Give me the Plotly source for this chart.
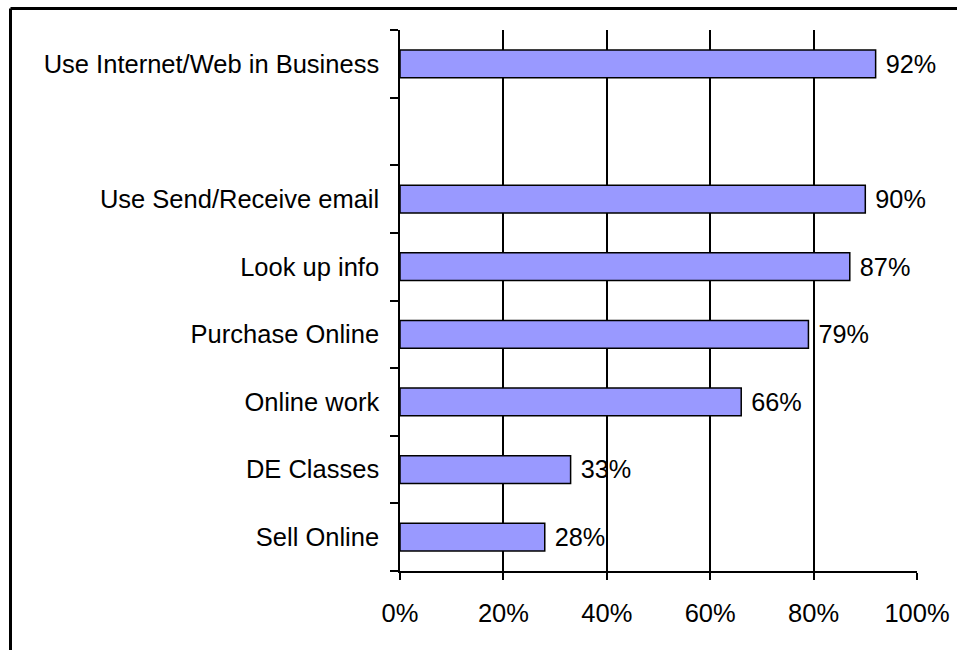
import plotly.graph_objects as go

categories = ["Sell Online", "DE Classes", "Online work", "Purchase Online",
              "Look up info", "Use Send/Receive email", " ", "Use Internet/Web in Business"]
values = [28, 33, 66, 79, 87, 90, None, 92]
x_ticks = [0, 20, 40, 60, 80, 100]
x_tick_labels = ["0%", "20%", "40%", "60%", "80%", "100%"]

FONT = "Liberation Sans, Arial, sans-serif"
FS = 25.5

fig = go.Figure(go.Bar(
    y=categories, x=values, orientation="h",
    marker=dict(color="#9999FF", line=dict(color="black", width=1.5)),
    width=0.41,
    texttemplate=" %{x}%", textposition="outside", cliponaxis=False,
    textfont=dict(family=FONT, size=FS, color="black"),
    hoverinfo="skip",
))

W, H = 957, 650
L, R, T, B = 400, 40, 30, 79
pw, ph = W - L - R, H - T - B

def px_x(p):
    return (p - L) / pw

def px_y(p):
    return (H - B - p) / ph

fig.update_layout(
    width=W, height=H,
    margin=dict(l=L, r=R, t=T, b=B, pad=0, autoexpand=False),
    paper_bgcolor="white", plot_bgcolor="white",
    showlegend=False,
    font=dict(family=FONT, size=FS, color="black"),
    xaxis=dict(range=[0, 100], tickvals=x_ticks, ticktext=x_tick_labels,
               showgrid=True, gridcolor="black", gridwidth=1.5,
               showline=True, linecolor="black", linewidth=1.5,
               ticks="outside", ticklen=7, tickwidth=1.5, tickcolor="black",
               ticklabelstandoff=12, zeroline=False, fixedrange=True,
               automargin=False),
    yaxis=dict(type="category", categoryorder="array", categoryarray=categories,
               range=[-0.5, 7.5], tickson="boundaries",
               showline=True, linecolor="black", linewidth=1.5,
               ticks="outside", ticklen=8, tickwidth=1.5, tickcolor="black",
               ticklabelstandoff=14, showgrid=False, zeroline=False, fixedrange=True,
               automargin=False),
    shapes=[
        dict(type="line", xref="paper", yref="paper",
             x0=px_x(10.5), x1=px_x(W + 20), y0=px_y(8.5), y1=px_y(8.5),
             line=dict(color="black", width=3)),
        dict(type="line", xref="paper", yref="paper",
             x0=px_x(10.5), x1=px_x(10.5), y0=px_y(8.5), y1=px_y(H + 20),
             line=dict(color="black", width=3)),
    ],
)

# remove the default 8px page margin so the figure fills the 957x650 window exactly
fig.write_html("out.html",
               config={"displayModeBar": False},
               post_script="document.body.style.margin='0';document.body.style.overflow='hidden';")
